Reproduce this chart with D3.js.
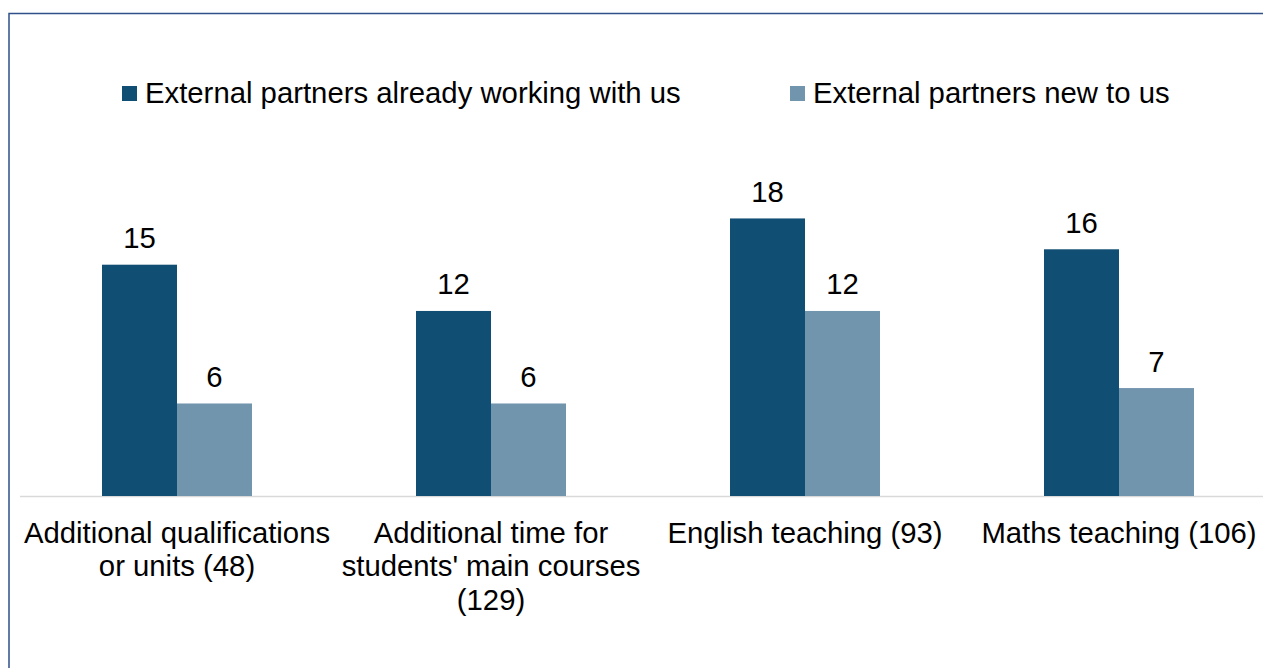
<!DOCTYPE html>
<html>
<head>
<meta charset="utf-8">
<script src="https://cdn.jsdelivr.net/npm/d3@7"></script>
<style>
  html, body { margin: 0; padding: 0; background: #fff; }
  svg { display: block; }
  text { font-family: "Liberation Sans", Arial, sans-serif; fill: #000; }
</style>
</head>
<body>
<svg id="chart" width="1263" height="668"></svg>
<script>
// Delivery areas and number of responses
const categories = [
  ["Additional qualifications", "or units (48)"],
  ["Additional time for", "students' main courses", "(129)"],
  ["English teaching (93)"],
  ["Maths teaching (106)"]
];
const seriesNames = ["External partners already working with us", "External partners new to us"];
const existingPartners = [15, 12, 18, 16];
const newPartners = [6, 6, 12, 7];
const seriesColors = ["#114e74", "#7295ae"];

const svg = d3.select("#chart");
const W = 1263, H = 668;
const FS = 29.3;

// outer frame (runs past the right and bottom edge)
svg.append("rect")
  .attr("x", 9).attr("y", 13.5)
  .attr("width", W + 20).attr("height", H + 20)
  .attr("fill", "none").attr("stroke", "#2f5089").attr("stroke-width", 1.5);

const plot = { left: 20, right: 1276, baseline: 496 };
const yMax = 20;

const x0 = d3.scaleBand()
  .domain(d3.range(categories.length))
  .range([plot.left, plot.right])
  .paddingInner(0).paddingOuter(0);

const x1 = d3.scaleBand()
  .domain([0, 1])
  .range([0, 150]);

const y = d3.scaleLinear().domain([0, yMax]).range([plot.baseline, plot.baseline - 15.42 * yMax]);

const rows = categories.map((c, i) => [existingPartners[i], newPartners[i]]);

// baseline
svg.append("line")
  .attr("x1", plot.left).attr("x2", W)
  .attr("y1", plot.baseline + 0.5).attr("y2", plot.baseline + 0.5)
  .attr("stroke", "#d9d9d9").attr("stroke-width", 1.5);

const groups = svg.append("g").selectAll("g")
  .data(rows)
  .join("g")
  .attr("transform", (d, i) => `translate(${x0(i) + x0.bandwidth() / 2 - 75},0)`);

groups.selectAll("rect")
  .data(d => d)
  .join("rect")
  .attr("x", (d, j) => x1(j))
  .attr("width", x1.bandwidth())
  .attr("y", d => y(d))
  .attr("height", d => y(0) - y(d))
  .attr("fill", (d, j) => seriesColors[j]);

groups.selectAll("text.value")
  .data(d => d)
  .join("text")
  .attr("class", "value")
  .attr("x", (d, j) => x1(j) + x1.bandwidth() / 2)
  .attr("y", d => y(d) - 16.5)
  .attr("text-anchor", "middle")
  .attr("font-size", FS)
  .text(d => d);

// category labels
const xAxis = svg.append("g");
categories.forEach((lines, i) => {
  const t = xAxis.append("text")
    .attr("x", x0(i) + x0.bandwidth() / 2)
    .attr("y", 542.5)
    .attr("text-anchor", "middle")
    .attr("font-size", FS);
  lines.forEach((ln, k) => {
    t.append("tspan")
      .attr("x", x0(i) + x0.bandwidth() / 2)
      .attr("dy", k === 0 ? 0 : 33.5)
      .text(ln);
  });
});

// legend
const legendX = [122, 790];
const legend = svg.append("g").selectAll("g")
  .data(seriesNames)
  .join("g")
  .attr("transform", (d, i) => `translate(${legendX[i]},86)`);
legend.append("rect")
  .attr("width", 15).attr("height", 15)
  .attr("fill", (d, i) => seriesColors[i]);
legend.append("text")
  .attr("x", 23).attr("y", 16.5)
  .attr("font-size", FS)
  .text(d => d);
</script>
</body>
</html>
